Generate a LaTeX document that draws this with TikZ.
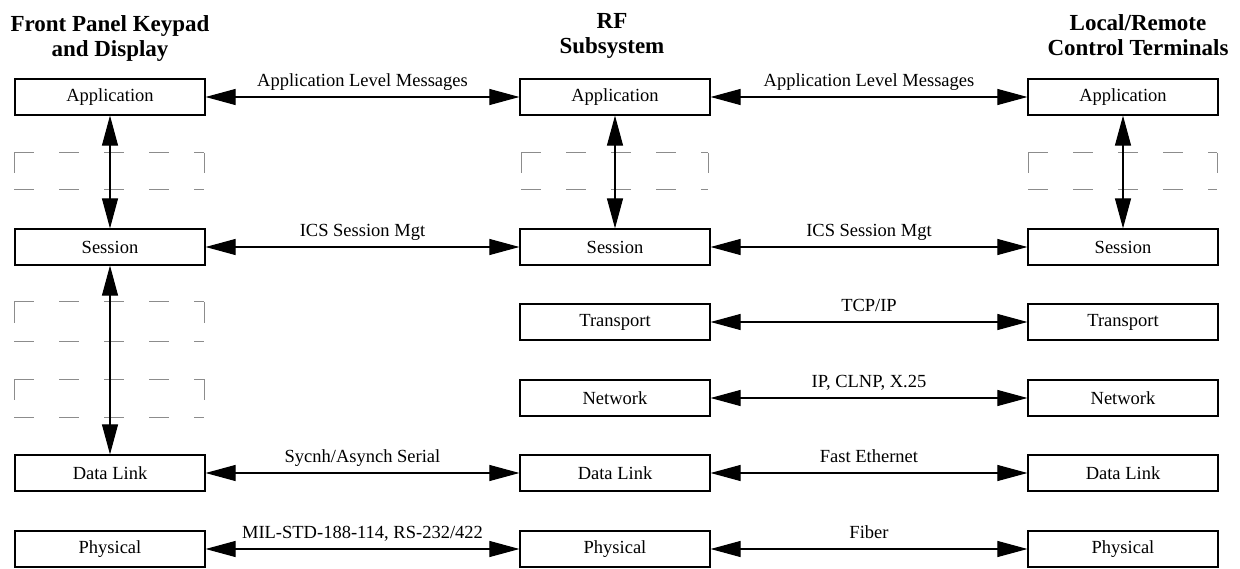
\documentclass[tikz,border=0pt]{standalone}
\usepackage{fontspec}
\setmainfont{Liberation Serif}
\usetikzlibrary{arrows.meta}

\begin{document}
\begin{tikzpicture}[x=1pt,y=-1pt,
    layer/.style={draw,line width=1.2pt,minimum width=190pt,minimum height=36pt,inner sep=0pt,font=\fontsize{18.5}{22}\selectfont},
    link/.style={line width=1.1pt,{Triangle[length=30pt,width=16pt]}-{Triangle[length=30pt,width=16pt]}},
    tag/.style={above=5.5pt,inner sep=0pt,text depth=4.2pt,font=\fontsize{18.5}{22}\selectfont},
    ghost/.style={black!45,line width=1pt},
    title/.style={align=center,anchor=north,inner sep=0pt,font=\fontsize{23}{25}\selectfont\bfseries}]
    \useasboundingbox (0,0) rectangle (1240,569);
    % column headings
    \node[title] (fpHead) at (110,15) {Front Panel Keypad\\and Display};
    \node[title] (rfHead) at (612,13) {RF\\Subsystem};
    \node[title] (crHead) at (1138,14) {Local/Remote\\Control Terminals};
    % empty layers
    \draw[ghost,dash pattern=on 20pt off 25pt] (14,153) -- (204,153) (14,190) -- (204,190);
    \draw[ghost] (14,153) -- ++(0,20) (204,153) -- ++(0,20);
    \draw[ghost,dash pattern=on 20pt off 25pt] (14,302) -- (204,302) (14,342) -- (204,342);
    \draw[ghost] (14,302) -- ++(0,21) (204,302) -- ++(0,21);
    \draw[ghost,dash pattern=on 20pt off 25pt] (14,379) -- (204,379) (14,417) -- (204,417);
    \draw[ghost] (14,379) -- ++(0,21) (204,379) -- ++(0,21);
    \draw[ghost,dash pattern=on 20pt off 25pt] (521,153) -- (708,153) (521,190) -- (708,190);
    \draw[ghost] (521,153) -- ++(0,20) (708,153) -- ++(0,20);
    \draw[ghost,dash pattern=on 20pt off 25pt] (1028,153) -- (1217,153) (1028,190) -- (1217,190);
    \draw[ghost] (1028,153) -- ++(0,20) (1217,153) -- ++(0,20);
    % front panel stack
    \node[layer] (fpApp) at (110,97) {Application};
    \node[layer] (fpSes) at (110,247) {Session};
    \node[layer] (fpLink) at (110,473) {Data Link};
    \node[layer] (fpPhy) at (110,549) {Physical};
    % RF subsystem stack
    \node[layer] (rfApp) at (615,97) {Application};
    \node[layer] (rfSes) at (615,247) {Session};
    \node[layer] (rfTrans) at (615,322) {Transport};
    \node[layer] (rfNet) at (615,398) {Network};
    \node[layer] (rfLink) at (615,473) {Data Link};
    \node[layer] (rfPhy) at (615,549) {Physical};
    % control terminal stack
    \node[layer] (crApp) at (1123,97) {Application};
    \node[layer] (crSes) at (1123,247) {Session};
    \node[layer] (crTrans) at (1123,322) {Transport};
    \node[layer] (crNet) at (1123,398) {Network};
    \node[layer] (crLink) at (1123,473) {Data Link};
    \node[layer] (crPhy) at (1123,549) {Physical};
    % vertical paths
    \draw[link] (fpApp) -- (fpSes);
    \draw[link] (fpSes) -- (fpLink);
    \draw[link] (rfApp) -- (rfSes);
    \draw[link] (crApp) -- (crSes);
    % peer links
    \draw[link] (fpApp) -- (rfApp) node[tag,midway] {Application Level Messages};
    \draw[link] (rfApp) -- (crApp) node[tag,midway] {Application Level Messages};
    \draw[link] (fpSes) -- (rfSes) node[tag,midway] {ICS Session Mgt};
    \draw[link] (rfSes) -- (crSes) node[tag,midway] {ICS Session Mgt};
    \draw[link] (rfTrans) -- (crTrans) node[tag,midway] {TCP/IP};
    \draw[link] (rfNet) -- (crNet) node[tag,midway] {IP, CLNP, X.25};
    \draw[link] (fpLink) -- (rfLink) node[tag,midway] {Sycnh/Asynch Serial};
    \draw[link] (rfLink) -- (crLink) node[tag,midway] {Fast Ethernet};
    \draw[link] (fpPhy) -- (rfPhy) node[tag,midway] {MIL-STD-188-114, RS-232/422};
    \draw[link] (rfPhy) -- (crPhy) node[tag,midway] {Fiber};
\end{tikzpicture}
\end{document}
